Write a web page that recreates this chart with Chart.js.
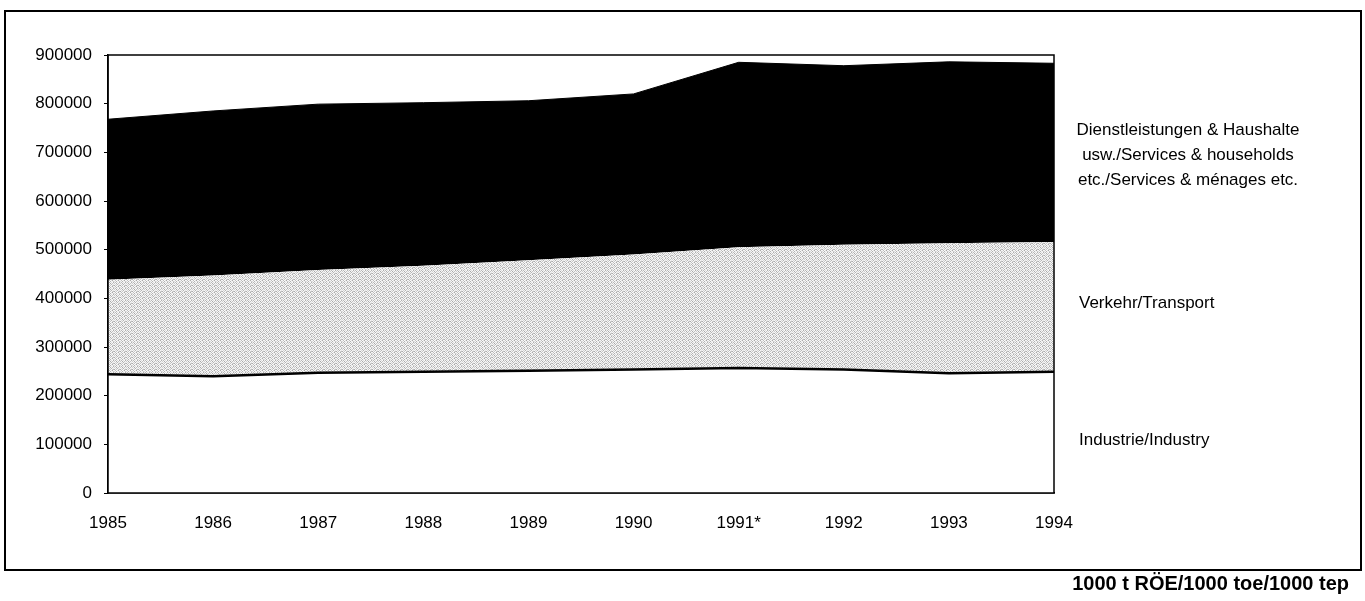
<!DOCTYPE html>
<html>
<head>
<meta charset="utf-8">
<script src="https://cdn.jsdelivr.net/npm/chart.js@4.4.1/dist/chart.umd.min.js"></script>
<style>
  html, body { margin: 0; padding: 0; background: #ffffff; }
  #wrap { position: relative; width: 1365px; height: 601px; }
</style>
</head>
<body>
<div id="wrap"><canvas id="c" width="1365" height="601"></canvas></div>
<script>
// ---- data ----
const years = ["1985","1986","1987","1988","1989","1990","1991*","1992","1993","1994"];
const industry  = [244000, 240000, 247000, 249000, 251000, 254000, 257000, 254000, 246000, 249000];
const transport = [194000, 207000, 211000, 218000, 227000, 236000, 248000, 256000, 267000, 267000];
const services  = [330000, 338000, 341000, 335000, 328000, 330000, 380000, 368000, 373000, 367000];
const yTicks = [0, 100000, 200000, 300000, 400000, 500000, 600000, 700000, 800000, 900000];
const servicesLabel = ["Dienstleistungen & Haushalte", "usw./Services & households", "etc./Services & ménages etc."];
const transportLabel = "Verkehr/Transport";
const industryLabel = "Industrie/Industry";
const unitLabel = "1000 t RÖE/1000 toe/1000 tep";

const FONT = "'Liberation Sans Narrow', 'Arial Narrow', 'Liberation Sans', Arial, sans-serif";

// speckled grey pattern for the transport band
function makePattern() {
  const p = document.createElement('canvas');
  p.width = 6; p.height = 6;
  const g = p.getContext('2d');
  const m = [
    [240, 185, 245, 220, 252, 175],
    [205, 252, 170, 248, 195, 244],
    [248, 215, 240, 180, 245, 230],
    [172, 245, 200, 252, 210, 190],
    [245, 190, 252, 225, 168, 248],
    [220, 248, 178, 245, 240, 205]
  ];
  for (let y = 0; y < 6; y++) for (let x = 0; x < 6; x++) {
    const v = m[y][x];
    g.fillStyle = 'rgb(' + v + ',' + v + ',' + v + ')';
    g.fillRect(x, y, 1, 1);
  }
  return g.createPattern(p, 'repeat');
}
const ctx0 = document.getElementById('c').getContext('2d');
const transportFill = makePattern();

const decor = {
  id: 'decor',
  afterDraw(chart) {
    const c = chart.ctx;
    const a = chart.chartArea;
    c.save();
    // plot frame
    c.strokeStyle = '#000';
    c.lineWidth = 1.5;
    c.strokeRect(a.left, a.top, a.right - a.left, a.bottom - a.top);
    // outer frame
    c.lineWidth = 2;
    c.strokeRect(5, 11, 1356, 559);
    // right labels
    c.fillStyle = '#000';
    c.font = '17px ' + FONT;
    c.textBaseline = 'middle';
    c.textAlign = 'center';
    const ys = [130, 155, 180];
    servicesLabel.forEach((t, i) => c.fillText(t, 1188, ys[i]));
    c.textAlign = 'left';
    c.fillText(transportLabel, 1079, 303);
    c.fillText(industryLabel, 1079, 440);
    // unit
    c.font = 'bold 20px ' + FONT;
    c.textAlign = 'right';
    c.fillText(unitLabel, 1349, 584);
    c.restore();
  }
};

new Chart(ctx0, {
  type: 'line',
  data: {
    labels: years,
    datasets: [
      { label: industryLabel, data: industry, fill: 'origin', backgroundColor: '#ffffff',
        borderColor: '#000000', borderWidth: 2.5, pointRadius: 0, tension: 0 },
      { label: transportLabel, data: transport, fill: '-1', backgroundColor: transportFill,
        borderColor: 'rgba(0,0,0,0)', borderWidth: 0, pointRadius: 0, tension: 0 },
      { label: servicesLabel.join(' '), data: services, fill: '-1', backgroundColor: '#000000',
        borderColor: '#000000', borderWidth: 1, pointRadius: 0, tension: 0 }
    ]
  },
  options: {
    responsive: false,
    animation: false,
    layout: { padding: { left: 0, right: 311, top: 55, bottom: 0 } },
    plugins: { legend: { display: false }, tooltip: { enabled: false }, title: { display: false } },
    scales: {
      x: {
        offset: false,
        grid: { display: false, drawTicks: false },
        border: { display: true, color: '#000', width: 1.5 },
        ticks: { color: '#000', font: { family: FONT, size: 17 }, padding: 20, maxRotation: 0, autoSkip: false },
        afterFit(s) { s.height = 108; }
      },
      y: {
        stacked: true,
        min: 0, max: 900000,
        afterBuildTicks(s) { s.ticks = yTicks.map(v => ({ value: v })); },
        grid: { drawOnChartArea: false, drawTicks: true, tickLength: 4, color: '#000' },
        border: { display: true, color: '#000', width: 1.5 },
        ticks: { color: '#000', font: { family: FONT, size: 17 }, padding: 12, callback: v => String(v) },
        afterFit(s) { s.width = 108; }
      }
    }
  },
  plugins: [decor]
});
</script>
</body>
</html>
